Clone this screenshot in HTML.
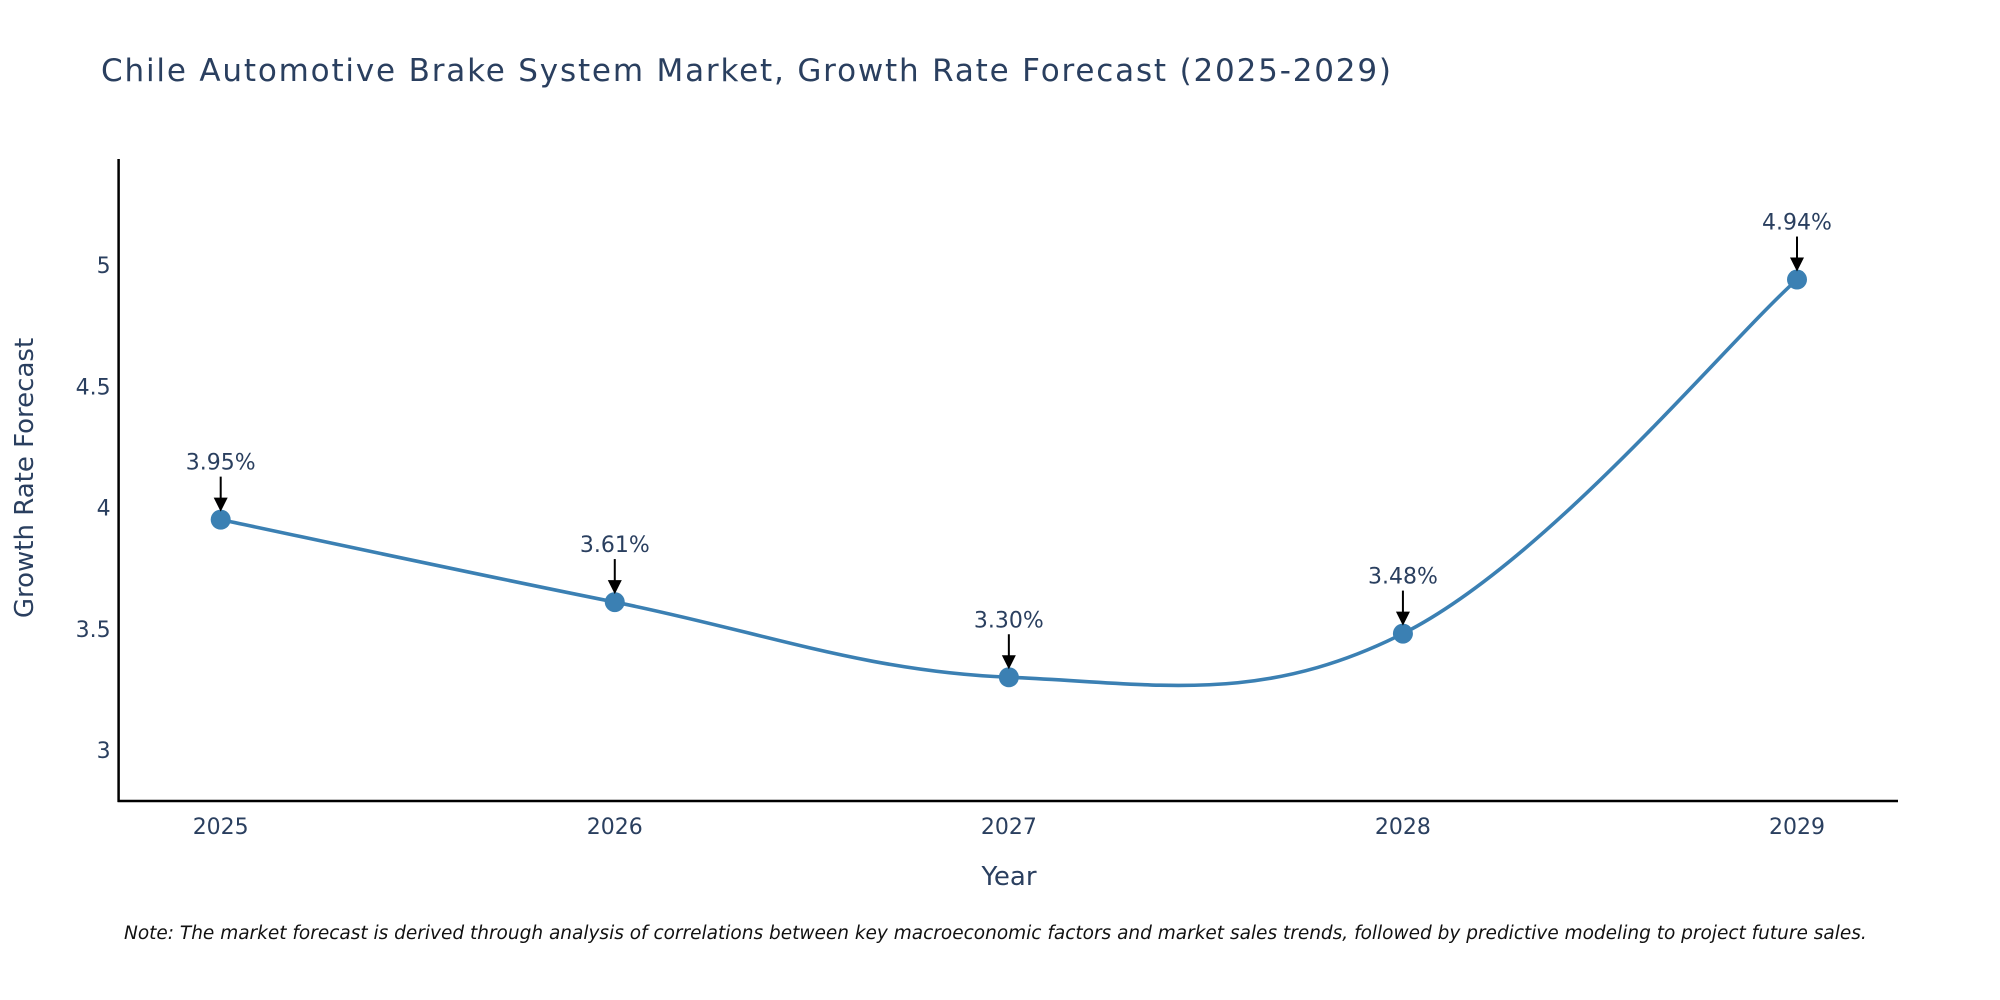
<!DOCTYPE html>
<html><head><meta charset="utf-8"><style>
html,body{margin:0;padding:0;background:#fff;width:2000px;height:1000px;overflow:hidden;font-family:"DejaVu Sans",sans-serif;}
</style></head><body>
<svg width="2000" height="1000" xmlns="http://www.w3.org/2000/svg" style="font-family:'DejaVu Sans',sans-serif">
<text x="101" y="81" font-size="31" textLength="1290" fill="#2a3f5f">Chile Automotive Brake System Market, Growth Rate Forecast (2025-2029)</text>
<g id="plot"></g>
<text transform="translate(33,478) rotate(-90)" text-anchor="middle" font-size="26" fill="#2a3f5f">Growth Rate Forecast</text>
<text x="1009" y="885" text-anchor="middle" font-size="26" fill="#2a3f5f">Year</text>
<text x="124" y="939" font-size="18.5" font-style="italic" fill="#111">Note: The market forecast is derived through analysis of correlations between key macroeconomic factors and market sales trends, followed by predictive modeling to project future sales.</text>
</svg>
<script>
const years=[2025,2026,2027,2028,2029];
const values=[3.95,3.61,3.30,3.48,4.94];
const labels=["3.95%","3.61%","3.30%","3.48%","4.94%"];
const yTicks=[3,3.5,4,4.5,5];
const NS="http://www.w3.org/2000/svg";
const g=document.getElementById('plot');
const X0=118.6,X1=1898,Y0=801,Y1=159;
const xs=v=>220.7+(v-2025)*(1797-220.7)/4;
const ys=v=>750-(v-3)*242.5;
function mk(t,a){const e=document.createElementNS(NS,t);for(const k in a)e.setAttribute(k,a[k]);g.appendChild(e);return e;}
let e;
e=mk('line',{x1:X0,y1:Y1,x2:X0,y2:Y0+1,stroke:'#000','stroke-width':2.5});


e=mk('line',{x1:X0-1,y1:Y0,x2:X1,y2:Y0,stroke:'#000','stroke-width':2.5});


yTicks.forEach(t=>{e=mk('text',{x:X0-8,y:ys(t)+8,'text-anchor':'end','font-size':22,fill:'#2a3f5f'});e.textContent=String(t);

});
years.forEach(y=>{e=mk('text',{x:xs(y),y:834,'text-anchor':'middle','font-size':22,fill:'#2a3f5f'});e.textContent=String(y);

});
const P=years.map((y,i)=>[xs(y),ys(values[i])]);
let d=`M${P[0][0]},${P[0][1]}`;const s=0.55;
for(let i=0;i<P.length-1;i++){const p0=P[Math.max(i-1,0)],p1=P[i],p2=P[i+1],p3=P[Math.min(i+2,P.length-1)];
const c1=[p1[0]+(p2[0]-p0[0])*s/3,p1[1]+(p2[1]-p0[1])*s/3],c2=[p2[0]-(p3[0]-p1[0])*s/3,p2[1]-(p3[1]-p1[1])*s/3];
d+=` C${c1[0]},${c1[1]} ${c2[0]},${c2[1]} ${p2[0]},${p2[1]}`;}
e=mk('path',{d:d,fill:'none',stroke:'#3b80b3','stroke-width':3.6});


P.forEach((p,i)=>{e=mk('circle',{cx:p[0],cy:p[1],r:10,fill:'#3b80b3'});


e=mk('line',{x1:p[0],y1:p[1]-43,x2:p[0],y2:p[1]-20,stroke:'#000','stroke-width':2});


e=mk('polygon',{points:`${p[0]-7},${p[1]-22} ${p[0]+7},${p[1]-22} ${p[0]},${p[1]-8}`,fill:'#000'});


e=mk('text',{x:p[0],y:p[1]-50,'text-anchor':'middle','font-size':22,fill:'#2a3f5f'});e.textContent=labels[i];

});
</script>
</body></html>
